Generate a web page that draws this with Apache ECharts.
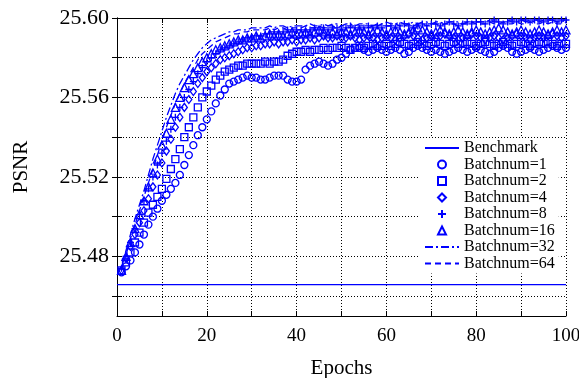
<!DOCTYPE html>
<html>
<head>
<meta charset="utf-8">
<script src="https://cdn.jsdelivr.net/npm/echarts@6/dist/echarts.min.js"></script>
<style>html,body{margin:0;padding:0;background:#fff}#c{width:579px;height:378px}</style>
</head>
<body>
<div id="c"></div>
<script>
// ---- data ----
const xTickLabels = [0, 20, 40, 60, 80, 100];
const yTickLabels = [25.48, 25.52, 25.56, 25.60];
const yGridValues = [25.46, 25.48, 25.50, 25.52, 25.54, 25.56, 25.58, 25.60];
const benchmarkName = 'Benchmark';
const benchmarkValue = 25.4658;
const seriesNames = ['Batchnum=1', 'Batchnum=2', 'Batchnum=4', 'Batchnum=8', 'Batchnum=16', 'Batchnum=32', 'Batchnum=64'];

const batch1 = [
25.472,25.475,25.478,25.482,25.486,25.491,25.496,25.500,25.504,25.508,
25.511,25.514,25.517,25.521,25.526,25.531,25.536,25.541,25.545,25.549,
25.553,25.557,25.561,25.564,25.567,25.568,25.569,25.570,25.571,25.570,
25.570,25.569,25.569,25.570,25.571,25.571,25.571,25.569,25.568,25.568,
25.569,25.574,25.576,25.577,25.578,25.577,25.576,25.577,25.579,25.580,
25.582,25.584,25.585,25.585,25.584,25.583,25.584,25.585,25.584,25.583,
25.584,25.585,25.584,25.582,25.583,25.585,25.586,25.585,25.584,25.583,
25.584,25.583,25.582,25.583,25.584,25.585,25.584,25.583,25.584,25.585,
25.584,25.583,25.582,25.583,25.585,25.586,25.585,25.583,25.582,25.583,
25.584,25.585,25.584,25.583,25.584,25.585,25.586,25.585,25.584,25.585];
const batch2 = [
25.473,25.477,25.482,25.487,25.492,25.497,25.502,25.506,25.510,25.514,
25.519,25.524,25.529,25.534,25.540,25.545,25.550,25.555,25.560,25.563,
25.566,25.569,25.571,25.573,25.574,25.575,25.576,25.576,25.577,25.577,
25.577,25.577,25.578,25.577,25.578,25.578,25.579,25.581,25.582,25.583,
25.583,25.584,25.583,25.584,25.584,25.585,25.584,25.585,25.585,25.586,
25.585,25.584,25.585,25.586,25.585,25.586,25.587,25.586,25.586,25.587,
25.586,25.587,25.588,25.587,25.586,25.587,25.588,25.587,25.586,25.587,
25.588,25.587,25.586,25.587,25.588,25.587,25.587,25.588,25.587,25.586,
25.587,25.588,25.587,25.586,25.587,25.588,25.587,25.586,25.587,25.588,
25.587,25.586,25.587,25.588,25.587,25.588,25.587,25.586,25.587,25.587];
const batch4 = [
25.473,25.479,25.485,25.491,25.497,25.503,25.509,25.515,25.521,25.527,
25.533,25.539,25.545,25.550,25.555,25.559,25.563,25.567,25.570,25.573,
25.575,25.577,25.579,25.580,25.581,25.582,25.583,25.584,25.585,25.585,
25.586,25.586,25.587,25.587,25.588,25.587,25.588,25.588,25.589,25.588,
25.589,25.589,25.590,25.589,25.590,25.591,25.590,25.590,25.591,25.590,
25.590,25.591,25.590,25.589,25.590,25.591,25.590,25.589,25.590,25.591,
25.590,25.589,25.590,25.591,25.592,25.591,25.590,25.589,25.590,25.591,
25.590,25.591,25.592,25.591,25.590,25.589,25.590,25.591,25.592,25.591,
25.590,25.589,25.590,25.591,25.590,25.589,25.590,25.591,25.592,25.591,
25.590,25.589,25.590,25.591,25.590,25.591,25.592,25.591,25.590,25.591];
const batch8 = [
25.474,25.480,25.487,25.494,25.501,25.508,25.514,25.520,25.526,25.532,
25.538,25.544,25.550,25.555,25.560,25.564,25.568,25.572,25.575,25.578,
25.580,25.582,25.584,25.585,25.586,25.587,25.588,25.589,25.590,25.590,
25.591,25.591,25.592,25.592,25.593,25.592,25.593,25.594,25.593,25.594,
25.594,25.593,25.594,25.595,25.594,25.595,25.594,25.595,25.595,25.594,
25.595,25.596,25.595,25.594,25.595,25.596,25.595,25.596,25.595,25.596,
25.596,25.595,25.596,25.597,25.596,25.595,25.596,25.597,25.596,25.597,
25.597,25.596,25.597,25.598,25.597,25.596,25.597,25.598,25.597,25.598,
25.598,25.597,25.598,25.599,25.598,25.597,25.598,25.599,25.598,25.599,
25.599,25.598,25.599,25.599,25.598,25.599,25.599,25.598,25.599,25.599];
const batch16 = [
25.473,25.480,25.487,25.494,25.501,25.508,25.515,25.522,25.529,25.536,
25.542,25.549,25.555,25.560,25.565,25.569,25.572,25.575,25.578,25.580,
25.582,25.584,25.585,25.586,25.587,25.588,25.589,25.589,25.590,25.590,
25.591,25.590,25.591,25.592,25.591,25.592,25.591,25.592,25.593,25.592,
25.592,25.593,25.592,25.593,25.594,25.593,25.592,25.593,25.592,25.593,
25.593,25.592,25.593,25.594,25.593,25.592,25.593,25.594,25.593,25.592,
25.593,25.594,25.593,25.592,25.593,25.594,25.595,25.594,25.593,25.592,
25.593,25.594,25.593,25.592,25.593,25.594,25.593,25.592,25.593,25.594,
25.593,25.592,25.593,25.594,25.595,25.594,25.593,25.592,25.593,25.594,
25.593,25.592,25.593,25.594,25.593,25.592,25.593,25.594,25.593,25.594];
const batch32 = [
25.474,25.483,25.491,25.499,25.506,25.513,25.521,25.529,25.536,25.543,
25.550,25.556,25.562,25.567,25.571,25.575,25.579,25.582,25.585,25.587,
25.589,25.590,25.591,25.592,25.593,25.593,25.594,25.594,25.594,25.595,
25.595,25.595,25.595,25.596,25.595,25.596,25.596,25.595,25.596,25.596,
25.596,25.596,25.597,25.596,25.596,25.597,25.596,25.597,25.597,25.596,
25.597,25.597,25.596,25.597,25.597,25.597,25.596,25.597,25.597,25.598,
25.597,25.597,25.598,25.597,25.597,25.598,25.597,25.598,25.598,25.597,
25.598,25.598,25.597,25.598,25.598,25.598,25.597,25.598,25.598,25.598,
25.598,25.598,25.599,25.598,25.598,25.598,25.599,25.598,25.598,25.599,
25.598,25.599,25.598,25.598,25.599,25.598,25.599,25.598,25.598,25.599];
const batch64 = [
25.473,25.481,25.489,25.496,25.503,25.510,25.517,25.524,25.531,25.538,
25.545,25.551,25.557,25.562,25.567,25.571,25.575,25.579,25.582,25.584,
25.586,25.588,25.589,25.590,25.591,25.592,25.592,25.593,25.593,25.594,
25.594,25.594,25.594,25.595,25.594,25.595,25.595,25.594,25.595,25.595,
25.595,25.596,25.595,25.595,25.596,25.595,25.596,25.596,25.595,25.596,
25.596,25.595,25.596,25.596,25.596,25.595,25.596,25.596,25.597,25.596,
25.596,25.597,25.596,25.596,25.597,25.596,25.597,25.597,25.596,25.597,
25.597,25.596,25.597,25.597,25.597,25.596,25.597,25.597,25.598,25.597,
25.597,25.597,25.598,25.597,25.597,25.598,25.597,25.597,25.598,25.597,
25.597,25.598,25.597,25.597,25.598,25.597,25.598,25.597,25.597,25.598];

// ---- chart ----
const BLUE = '#0000ff';
const FONT = "'Liberation Serif', 'Times New Roman', serif";
const toPairs = arr => arr.map((v, i) => [i + 1, v]);
const plusPath = 'path://M5,0L5,10M0,5L10,5';
const CLEAR = 'rgba(0,0,0,0)';

// marker-only series (line type with invisible connecting line)
function markerSeries(name, data, symbol, size) {
  return {
    name, type: 'line', data: toPairs(data), symbol, symbolSize: size,
    showSymbol: true, showAllSymbol: true,
    lineStyle: { width: 0, color: CLEAR },
    itemStyle: { color: CLEAR, borderColor: BLUE, borderWidth: 1.3 },
    emphasis: { disabled: true }, z: 3
  };
}
function lineSeries(name, data, dash) {
  return {
    name, type: 'line', data: toPairs(data), symbol: 'none', showSymbol: false,
    lineStyle: { color: BLUE, width: 1.3, type: dash },
    itemStyle: { color: CLEAR, borderColor: CLEAR, borderWidth: 0 },
    emphasis: { disabled: true }, z: 3
  };
}

const chart = echarts.init(document.getElementById('c'), null, { renderer: 'canvas' });
const tickStyle = { show: true, inside: true, length: 5, lineStyle: { color: '#000', width: 1 } };
const axisLineStyle = { show: true, lineStyle: { color: '#000', width: 1 } };

chart.setOption({
  animation: false,
  backgroundColor: '#fff',
  textStyle: { fontFamily: FONT },
  grid: { left: 117, right: 13, top: 18, bottom: 62, containLabel: false, outerBoundsMode: 'none' },
  legend: {
    orient: 'vertical', left: 420, top: 138, z: 6,
    itemWidth: 34, itemHeight: 10, itemGap: 0.5,
    backgroundColor: '#fff', padding: [2, 4, 2, 4],
    textStyle: { fontFamily: FONT, fontSize: 16, color: '#000', lineHeight: 15 },
    data: [benchmarkName].concat(seriesNames)
  },
  xAxis: [{
    type: 'value', min: 0, max: 100, interval: 10, position: 'bottom',
    name: 'Epochs', nameLocation: 'middle', nameGap: 42,
    nameTextStyle: { fontFamily: FONT, fontSize: 21, color: '#000' },
    axisLine: axisLineStyle, axisTick: tickStyle,
    axisLabel: { fontFamily: FONT, fontSize: 19, color: '#000', margin: 11,
      formatter: v => (xTickLabels.indexOf(Math.round(v)) >= 0 ? String(Math.round(v)) : '') },
    splitLine: { show: true, lineStyle: { color: '#000', width: 1, type: [1, 2] } }
  }, {
    type: 'value', min: 0, max: 100, interval: 10, position: 'top',
    axisLine: axisLineStyle, axisTick: tickStyle, axisLabel: { show: false }, splitLine: { show: false }
  }],
  yAxis: [{
    type: 'value', min: 25.45, max: 25.60, interval: 0.01, position: 'left',
    name: 'PSNR', nameLocation: 'middle', nameGap: 85, nameRotate: 90,
    nameTextStyle: { fontFamily: FONT, fontSize: 21, color: '#000' },
    axisLine: axisLineStyle,
    axisTick: Object.assign({ customValues: yGridValues }, tickStyle),
    axisLabel: { customValues: yTickLabels, fontFamily: FONT, fontSize: 22, color: '#000', margin: 8,
      formatter: v => Number(v).toFixed(2) },
    splitLine: { show: false }
  }, {
    type: 'value', min: 25.45, max: 25.60, interval: 0.01, position: 'right',
    axisLine: axisLineStyle,
    axisTick: Object.assign({ customValues: yGridValues }, tickStyle),
    axisLabel: { show: false }, splitLine: { show: false }
  }],
  series: [
    {
      name: benchmarkName, type: 'line', z: 1,
      data: [[0, benchmarkValue], [100, benchmarkValue]],
      symbol: 'none', showSymbol: false,
      lineStyle: { color: BLUE, width: 1.3, type: 'solid' },
      itemStyle: { color: CLEAR, borderColor: CLEAR, borderWidth: 0 },
      emphasis: { disabled: true },
      markLine: {
        silent: true, symbol: 'none', label: { show: false }, z: 1,
        lineStyle: { color: '#000', width: 1, type: [1, 2] },
        emphasis: { disabled: true },
        data: yGridValues.filter(v => v < 25.6).map(v => ({ yAxis: v }))
      }
    },
    lineSeries(seriesNames[5], batch32, [8, 3, 2, 3]),
    lineSeries(seriesNames[6], batch64, [6, 4]),
    markerSeries(seriesNames[0], batch1, 'circle', 7),
    markerSeries(seriesNames[1], batch2, 'rect', 7),
    markerSeries(seriesNames[2], batch4, 'diamond', [6, 8]),
    markerSeries(seriesNames[3], batch8, plusPath, 7),
    markerSeries(seriesNames[4], batch16, 'triangle', 8)
  ]
});
</script>
</body>
</html>
